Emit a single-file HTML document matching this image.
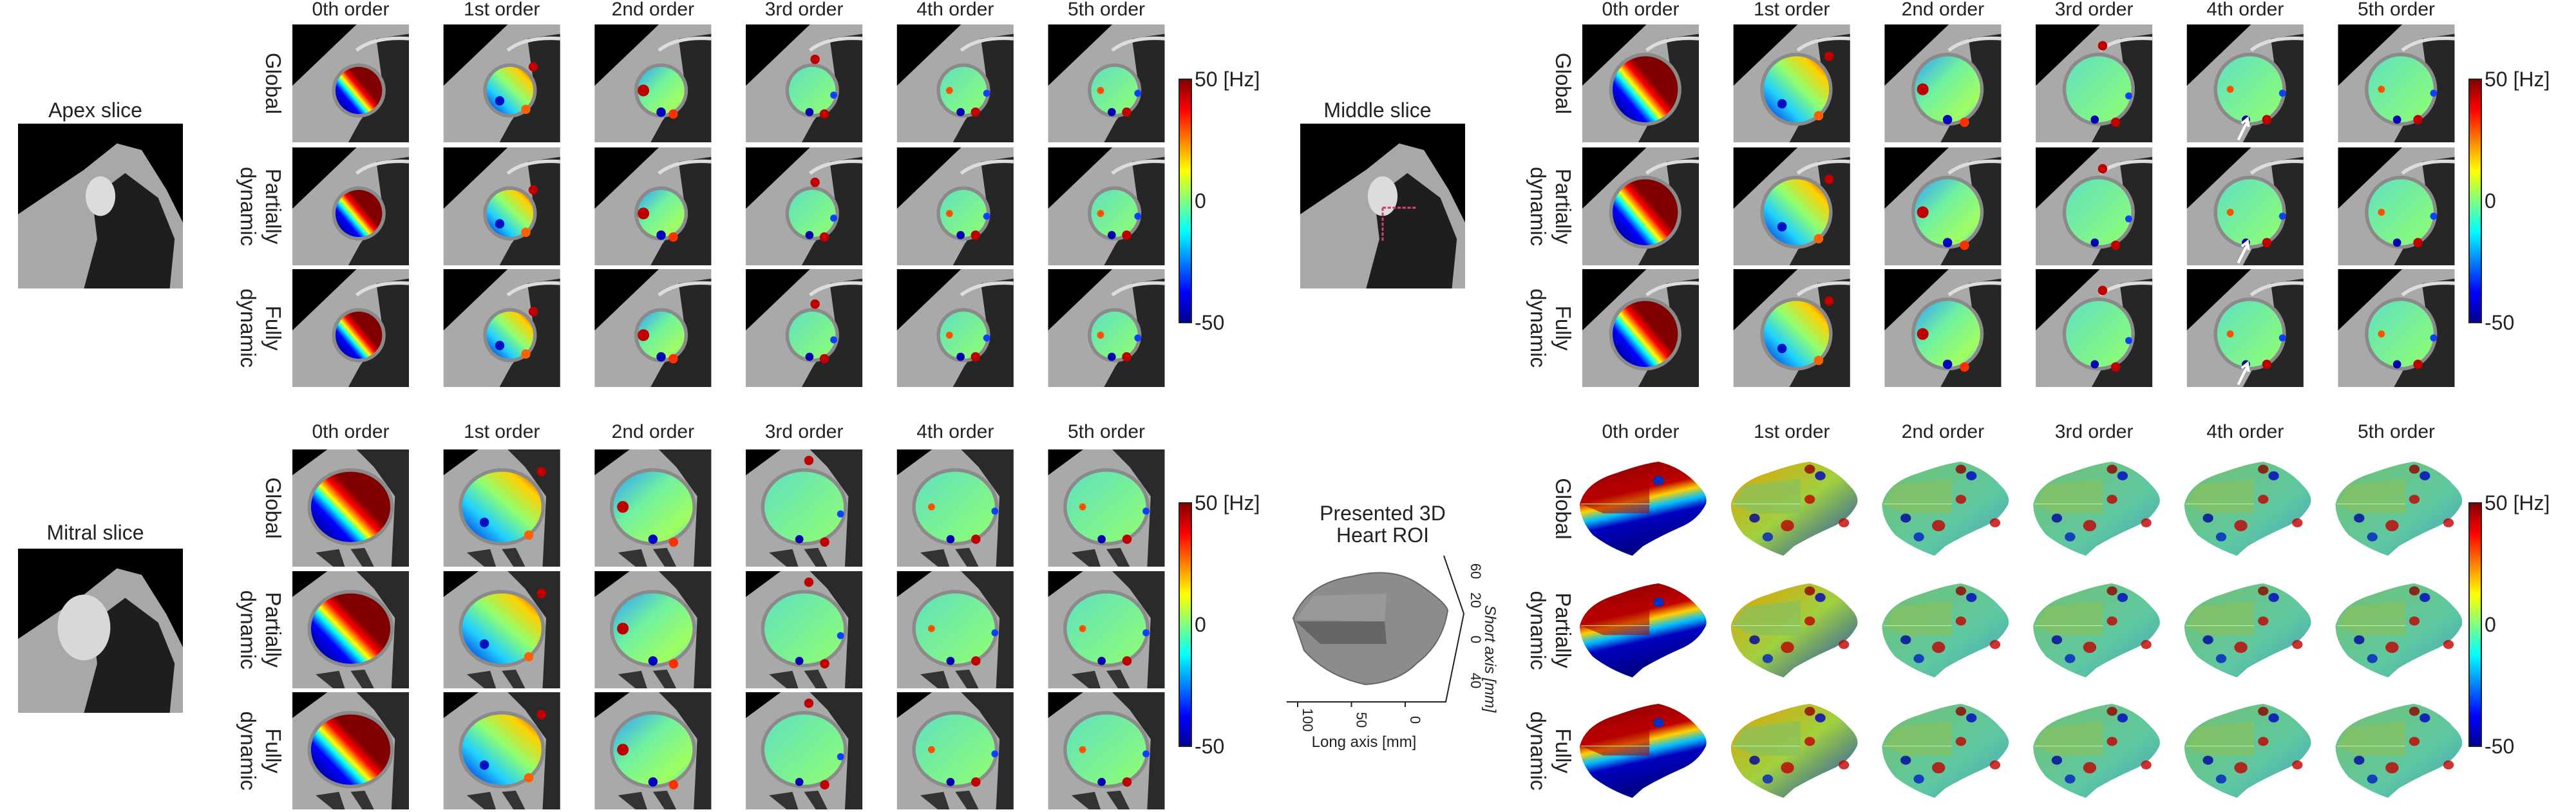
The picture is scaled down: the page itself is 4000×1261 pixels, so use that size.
<!DOCTYPE html>
<html><head><meta charset="utf-8">
<style>
html,body{margin:0;padding:0;background:#fff;}
svg{display:block;}
text{font-family:"Liberation Sans Narrow","Liberation Sans",sans-serif;fill:#222;}
.rl{font-family:"Liberation Sans",sans-serif;}
</style></head>
<body>
<svg id="fig" width="4000" height="1261" viewBox="0 0 4000 1261" xmlns="http://www.w3.org/2000/svg">
<defs>
<linearGradient id="jetV" x1="0" y1="1" x2="0" y2="0">
<stop offset="0" stop-color="#00008f"/><stop offset="0.125" stop-color="#0000ff"/>
<stop offset="0.375" stop-color="#00ffff"/><stop offset="0.5" stop-color="#80ff80"/>
<stop offset="0.625" stop-color="#ffff00"/><stop offset="0.875" stop-color="#ff0000"/>
<stop offset="1" stop-color="#800000"/></linearGradient>
<linearGradient id="g0" x1="0.1" y1="0.9" x2="0.75" y2="0.35">
<stop offset="0" stop-color="#00008f"/><stop offset="0.3" stop-color="#0000ff"/>
<stop offset="0.45" stop-color="#00ffff"/><stop offset="0.55" stop-color="#ffff00"/>
<stop offset="0.7" stop-color="#ff0000"/><stop offset="0.85" stop-color="#800000"/></linearGradient>
<linearGradient id="g1" x1="0" y1="1" x2="1" y2="0">
<stop offset="0" stop-color="#0010d0"/><stop offset="0.3" stop-color="#20d0ff"/>
<stop offset="0.55" stop-color="#90ff70"/><stop offset="0.8" stop-color="#ffd000"/>
<stop offset="1" stop-color="#d00000"/></linearGradient>
<linearGradient id="g2" x1="0" y1="0" x2="1" y2="1">
<stop offset="0" stop-color="#30a0ff"/><stop offset="0.4" stop-color="#70f0a0"/>
<stop offset="0.8" stop-color="#a0ff60"/><stop offset="1" stop-color="#40c0ff"/></linearGradient>
<linearGradient id="g3" x1="0" y1="0" x2="1" y2="1">
<stop offset="0" stop-color="#60e0c0"/><stop offset="1" stop-color="#90ff70"/></linearGradient>
<linearGradient id="d0" x1="0" y1="0" x2="0.3" y2="1">
<stop offset="0" stop-color="#800000"/><stop offset="0.4" stop-color="#c00000"/>
<stop offset="0.5" stop-color="#ffd000"/><stop offset="0.6" stop-color="#00c0ff"/>
<stop offset="0.7" stop-color="#0000c0"/><stop offset="1" stop-color="#000080"/></linearGradient>
<linearGradient id="d1" x1="0" y1="0" x2="1" y2="1">
<stop offset="0" stop-color="#e0a000"/><stop offset="0.5" stop-color="#a0d040"/>
<stop offset="1" stop-color="#1040c0"/></linearGradient>
<linearGradient id="dn" x1="0" y1="0" x2="1" y2="1">
<stop offset="0" stop-color="#70c070"/><stop offset="0.6" stop-color="#60c8a0"/>
<stop offset="1" stop-color="#40a0c0"/></linearGradient>
</defs>
</svg>
<script>
const orders = ["0th order","1st order","2nd order","3rd order","4th order","5th order"];
const rowLabels = [["Global"],["Partially","dynamic"],["Fully","dynamic"]];
const cbTicks = ["50 [Hz]","0","-50"];
const cbValues = [50,0,-50];
const cbMin = -50, cbMax = 50;
const longTicks = ["100","50","0"];
const shortTicks = ["60","20","0","40"];

const NS="http://www.w3.org/2000/svg";
const svg=document.getElementById('fig');
function mk(tag,attrs,parent){const e=document.createElementNS(NS,tag);for(const k in attrs)e.setAttribute(k,attrs[k]);(parent||svg).appendChild(e);return e;}
function txt(s,x,y,size,parent,extra){const t=mk('text',Object.assign({x:x,y:y,'font-size':size,'text-anchor':'middle'},extra||{}),parent);t.textContent=s;return t;}

const colX0=454, colPitch=234.7, pw=181;
const quads=[
 {name:'apex',x:0,rows:[38,229,418],ph:183,titleY:24,cbTop:123,cbBot:501,kind:'ct',blob:[57,56,20,20],title:'Apex slice',tY:171,img:[28,192,256,256]},
 {name:'middle',x:2003,rows:[38,229,418],ph:183,titleY:24,cbTop:123,cbBot:501,kind:'ct',blob:[54,55,28,28],title:'Middle slice',tY:171,img:[2019,192,256,256]},
 {name:'mitral',x:0,rows:[698,887,1075],ph:182,titleY:680,cbTop:781,cbBot:1159,kind:'mit',blob:[50,49,34,30],title:'Mitral slice',tY:827,img:[28,852,256,255]},
 {name:'heart3d',x:2003,rows:[717,906,1093],ph:146,titleY:680,cbTop:781,cbBot:1159,kind:'3d'}
];
const spots={
 1:[[80,30,4,'#c00000'],[72,75,4,'#ff6000'],[44,66,4,'#0010c0']],
 2:[[36,55,5,'#c00000'],[68,80,4,'#ff3000'],[55,78,4,'#0000c0']],
 3:[[58,22,4,'#c00000'],[68,80,4,'#c00000'],[52,78,3.5,'#0000b0'],[78,60,3,'#1040ff']],
 4:[[68,78,4,'#c00000'],[52,78,3.5,'#0000b0'],[80,58,3,'#1040ff'],[40,55,3,'#ff5000']],
 5:[[68,78,4,'#c00000'],[52,78,3.5,'#0000b0'],[80,58,3,'#1040ff'],[40,55,3,'#ff5000']]
};
const fills=['url(#g0)','url(#g1)','url(#g2)','url(#g3)','url(#g3)','url(#g3)'];

quads.forEach((q,qi)=>{
 const g=mk('g',{});
 
 
 orders.forEach((o,ci)=>{
  const t=txt(o,q.x+colX0+ci*colPitch+pw/2,q.titleY,30,g);
  
  
 });
 rowLabels.forEach((lines,ri)=>{
  const cy=q.rows[ri]+q.ph/2;
  lines.forEach((s,li)=>{
   const cx=q.x+(lines.length===1?413:(li===0?413:374));
   const t=txt(s,0,0,33,g,{transform:`translate(${cx},${cy}) rotate(90)`,'class':'rl'});
   
   
  });
  orders.forEach((o,ci)=>{
   const px=q.x+colX0+ci*colPitch;
   const pg=mk('g',{transform:q.kind==='3d'?`translate(${px-8},${q.rows[ri]}) scale(2.04,${q.ph/100})`:`translate(${px},${q.rows[ri]}) scale(${pw/100},${q.ph/100})`},g);
   
   
   if(q.kind==='3d'){
    mk('path',{d:'M2,45 Q6,22 30,12 Q50,2 62,0 Q80,6 92,25 Q100,36 98,45 Q92,62 78,70 Q62,80 50,90 L42,100 Q25,92 12,78 Q2,62 2,45 Z',fill:ci===0?'url(#d0)':(ci===1?'url(#d1)':'url(#dn)')},pg);
    mk('polygon',{points:'3,45 12,25 55,18 55,55 20,55',fill:ci===0?'#b00000':'#88c060','fill-opacity':ci===0?0.6:0.7},pg);
    mk('line',{x1:3,y1:45,x2:55,y2:45,stroke:'#c0ffc0','stroke-width':0.6},pg);
    if(ci>0){
     [[45,68,5,'#c00000'],[62,40,4,'#c00000'],[88,65,4,'#c00000'],[20,60,4,'#0000a0'],[30,80,4,'#0020c0'],[70,15,4,'#0000c0'],[62,8,4,'#900000']].forEach(s=>mk('ellipse',{cx:s[0],cy:s[1],rx:s[2],ry:s[2]*1.2,fill:s[3],'fill-opacity':0.8},pg));
    }else{
     mk('ellipse',{cx:62,cy:20,rx:4,ry:5,fill:'#0030c0'},pg);
    }
   } else {
    mk('rect',{x:0,y:0,width:100,height:100,fill:'#a9a9a9'},pg);
    if(q.kind==='mit'){
     mk('polygon',{points:'0,0 30,0 0,22',fill:'#000'},pg);
     mk('polygon',{points:'55,0 100,0 100,100 85,100 88,40 70,15',fill:'#2a2a2a'},pg);
     mk('polygon',{points:'20,88 35,100 45,100 40,85',fill:'#333'},pg);
     mk('polygon',{points:'50,85 60,100 70,100 62,84',fill:'#333'},pg);
    } else {
     mk('polygon',{points:'0,0 55,0 0,52',fill:'#000'},pg);
     mk('polygon',{points:'72,12 100,8 100,100 48,100 58,82 78,55',fill:'#262626'},pg);
     mk('path',{d:'M55,22 Q70,10 100,12',stroke:'#ddd','stroke-width':3,fill:'none'},pg);
    }
    const b=q.blob;
    mk('ellipse',{cx:b[0],cy:b[1],rx:b[2]+3,ry:b[3]+3,fill:'#8a8a8a'},pg);
    mk('ellipse',{cx:b[0],cy:b[1],rx:b[2],ry:b[3],fill:fills[ci]},pg);
    if(spots[ci]) spots[ci].forEach(s=>{
     const sx=b[0]+(s[0]-55)/45*b[2]*1.8, sy=b[1]+(s[1]-55)/45*b[3]*1.8;
     mk('circle',{cx:sx,cy:sy,r:s[2],fill:s[3]},pg);
    });
    if(q.name==='middle'&&ci===4){
     const a=mk('path',{d:'M44,98 L52,82 M47,84 L52,80 L53,87',stroke:'#fff','stroke-width':2.2,fill:'none'},pg);
     
     
    }
   }
  });
 });
 const cbx=q.x+1831;
 const cb=mk('rect',{x:cbx,y:q.cbTop,width:19,height:q.cbBot-q.cbTop,fill:'url(#jetV)',stroke:'#222','stroke-width':2},g);
 
 
 const ys=v=>q.cbBot-(v-cbMin)/(cbMax-cbMin)*(q.cbBot-q.cbTop);
 cbValues.forEach((v,i)=>{
  const t=txt(cbTicks[i],cbx+24,ys(v)+11,32,g,{'text-anchor':'start'});
  
  
 });
 if(q.title){
  const t=txt(q.title,q.img[0]+q.img[2]/2-8,q.tY+11,32,g);
  
  
  const ig=mk('g',{transform:`translate(${q.img[0]},${q.img[1]}) scale(${q.img[2]/100},${q.img[3]/100})`},g);
  
  
  mk('rect',{x:0,y:0,width:100,height:100,fill:'#000'},ig);
  mk('polygon',{points:'0,55 40,28 60,12 75,16 90,40 100,60 100,100 0,100',fill:'#a8a8a8'},ig);
  mk('polygon',{points:'45,45 65,30 85,45 95,70 92,100 40,100 48,70',fill:'#1e1e1e'},ig);
  if(q.name==='mitral'){mk('ellipse',{cx:40,cy:48,rx:16,ry:20,fill:'#d8d8d8'},ig);}
  else {mk('ellipse',{cx:50,cy:44,rx:9,ry:12,fill:'#dcdcdc'},ig);}
  if(q.name==='middle'){mk('path',{d:'M50,51 L70,51 M50,51 L50,72',stroke:'#d04070','stroke-width':1.2,'stroke-dasharray':'2,1',fill:'none'},ig);}
 }
});
const ins=mk('g',{});


[["Presented 3D",808],["Heart ROI",842]].forEach((p,i)=>{const t=txt(p[0],2147,p[1],32,ins);});
mk('path',{d:'M2008,960 Q2030,905 2100,895 Q2160,880 2200,905 Q2245,935 2248,948 Q2240,1000 2200,1030 Q2170,1060 2120,1063 Q2060,1050 2025,1010 Z',fill:'#8c8c8c',stroke:'#666','stroke-width':2},ins);
mk('polygon',{points:'2012,962 2040,925 2153,922 2150,965',fill:'#999'},ins);
mk('polygon',{points:'2012,965 2150,965 2153,1000 2050,1000',fill:'#666'},ins);
mk('path',{d:'M1998,1090 L2245,1090 L2273,953 L2242,863',stroke:'#222','stroke-width':2,fill:'none'},ins);
const lx=v=>2015+(100-v)/100*167;
longTicks.forEach((s,i)=>{const v=+s;mk('line',{x1:lx(v),y1:1090,x2:lx(v),y2:1098,stroke:'#222','stroke-width':2},ins);const t=txt(s,0,0,22,ins,{transform:`translate(${lx(v)+8},${1118}) rotate(90)`,'class':'rl'});});
const sy=[887,932,993,1057];
shortTicks.forEach((s,i)=>{const t=txt(s,0,0,22,ins,{transform:`translate(${2284},${sy[i]}) rotate(90)`,'class':'rl'});});
let t1=txt('Long axis [mm]',2118,1160,24,ins,{'class':'rl'});
let t2=txt('Short axis [mm]',0,0,24,ins,{transform:'translate(2306,1023) rotate(90)','class':'rl','font-style':'italic'});
</script>
</body></html>
